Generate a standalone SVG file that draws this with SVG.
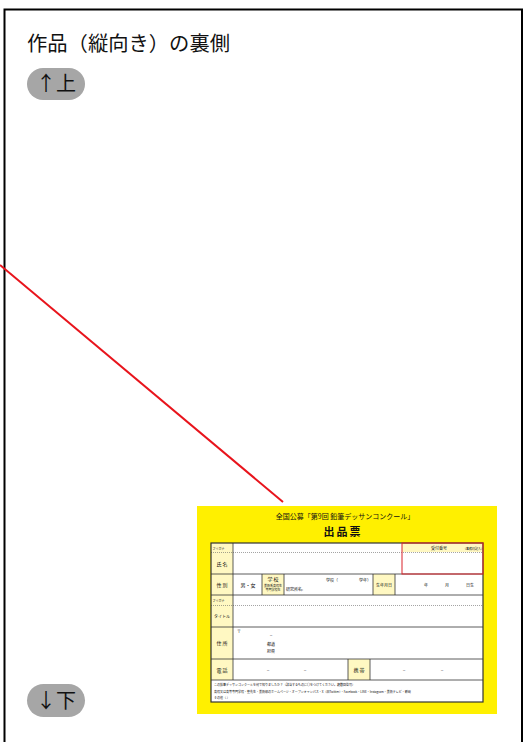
<svg xmlns="http://www.w3.org/2000/svg" width="525" height="742" viewBox="0 0 525 742">
<style>
text{font-family:"Noto Sans CJK JP","Noto Sans",sans-serif;fill:#111}
.h{font-size:20px}
.pill{fill:#a6a6a6}
.pt{font-size:20px}
.lab{fill:#fff8c2}
.ln{stroke:#333;stroke-width:0.8;fill:none}
.dl{stroke:#666;stroke-width:0.6;stroke-dasharray:1 1;fill:none}
.s5{font-size:5px;text-anchor:middle}
.s4{font-size:4px}
.s3{font-size:3px}
</style>
<rect width="525" height="742" fill="#fff"/>
<g id="frame">
<rect x="4.5" y="9.5" width="517.5" height="760" fill="none" stroke="#000" stroke-width="2"/>
</g>
<g id="heading">
<text class="h" x="27" y="51" textLength="203" lengthAdjust="spacingAndGlyphs">作品（縦向き）の裏側</text>
</g>
<g id="pill-up">
<rect class="pill" x="27" y="68" width="58" height="32" rx="16"/>
<text class="pt" x="36" y="91">↑上</text>
</g>
<g id="pill-down">
<rect class="pill" x="27" y="684" width="58" height="33" rx="16.5"/>
<text class="pt" x="36" y="708">↓下</text>
</g>
<g id="form">
<rect x="197" y="506" width="300" height="208" fill="#fff000"/>
<text x="345" y="519" font-size="7" text-anchor="middle">全国公募「第9回 鉛筆デッサンコンクール」</text>
<text x="343" y="536" font-size="11" font-weight="bold" text-anchor="middle" letter-spacing="2">出品票</text>
<rect x="211" y="543" width="272" height="159" fill="#fff"/>
<rect class="lab" x="211" y="543" width="22" height="137"/>
<rect class="lab" x="262" y="574" width="22" height="21"/>
<rect class="lab" x="373" y="574" width="22" height="21"/>
<rect class="lab" x="348" y="659" width="22" height="21"/>
<rect class="lab" x="402" y="543" width="81" height="9"/>
<path class="dl" d="M211 552.5H483M211 605.5H483"/>
<path class="ln" d="M211 574H483M211 595H483M211 627H483M211 659H483M211 680H483M233 543V680M262 574V595M284 574V595M373 574V595M395 574V595M348 659V680M370 659V680"/>
<rect x="211" y="543" width="272" height="159" fill="none" stroke="#333" stroke-width="1.2"/>
<rect x="402" y="543" width="81" height="31" fill="none" stroke="#d9232a" stroke-width="1"/>
<text class="s3" x="212.5" y="549.5">フリガナ</text>
<text class="s5" x="222" y="566">氏 名</text>
<text class="s4" x="431" y="549.5">受付番号</text>
<text class="s3" x="463" y="549.5">（事務局記入）</text>
<text class="s5" x="222" y="587">性 別</text>
<text class="s5" x="248" y="587">男・女</text>
<text class="s5" x="273" y="581">学 校</text>
<text class="s3" x="273" y="586.5" text-anchor="middle" font-size="2.2">美術系高校生</text>
<text class="s3" x="273" y="591" text-anchor="middle" font-size="2.2">専門学校生</text>
<text class="s4" x="326" y="582">学校（</text>
<text class="s4" x="359" y="582">学年）</text>
<text class="s4" x="286" y="591">研究所名:</text>
<text class="s4" x="384" y="586.5" text-anchor="middle">生年月日</text>
<text class="s4" x="424" y="586.5">年</text>
<text class="s4" x="445" y="586.5">月</text>
<text class="s4" x="466" y="586.5">日生</text>
<text class="s3" x="212.5" y="601.5">フリガナ</text>
<text class="s4" x="222" y="618" text-anchor="middle">タイトル</text>
<text class="s4" x="237" y="633">〒</text>
<text class="s5" x="271" y="637">–</text>
<text class="s4" x="267" y="646">都道</text>
<text class="s4" x="267" y="653">府県</text>
<text class="s5" x="222" y="645">住 所</text>
<text class="s5" x="222" y="672">電 話</text>
<text class="s5" x="268" y="672">–</text>
<text class="s5" x="305" y="672">–</text>
<text class="s5" x="359" y="672">携 帯</text>
<text class="s5" x="404" y="672">–</text>
<text class="s5" x="442" y="672">–</text>
<text class="s3" x="214" y="686">この鉛筆デッサンコンクールを何で知りましたか？（該当するものに〇をつけてください。複数回答可）</text>
<text class="s3" x="214" y="693">高校又は高等専門学校・塾先生・美術部のホームページ・オープンキャンパス・X（旧Twitter）・Facebook・LINE・Instagram・美術テレビ・新聞</text>
<text class="s3" x="214" y="698.5">その他（                                                                      ）</text>
</g>
<g id="connectors">
<line x1="0" y1="265" x2="283" y2="502" stroke="#e8141c" stroke-width="2"/>
</g>
</svg>
